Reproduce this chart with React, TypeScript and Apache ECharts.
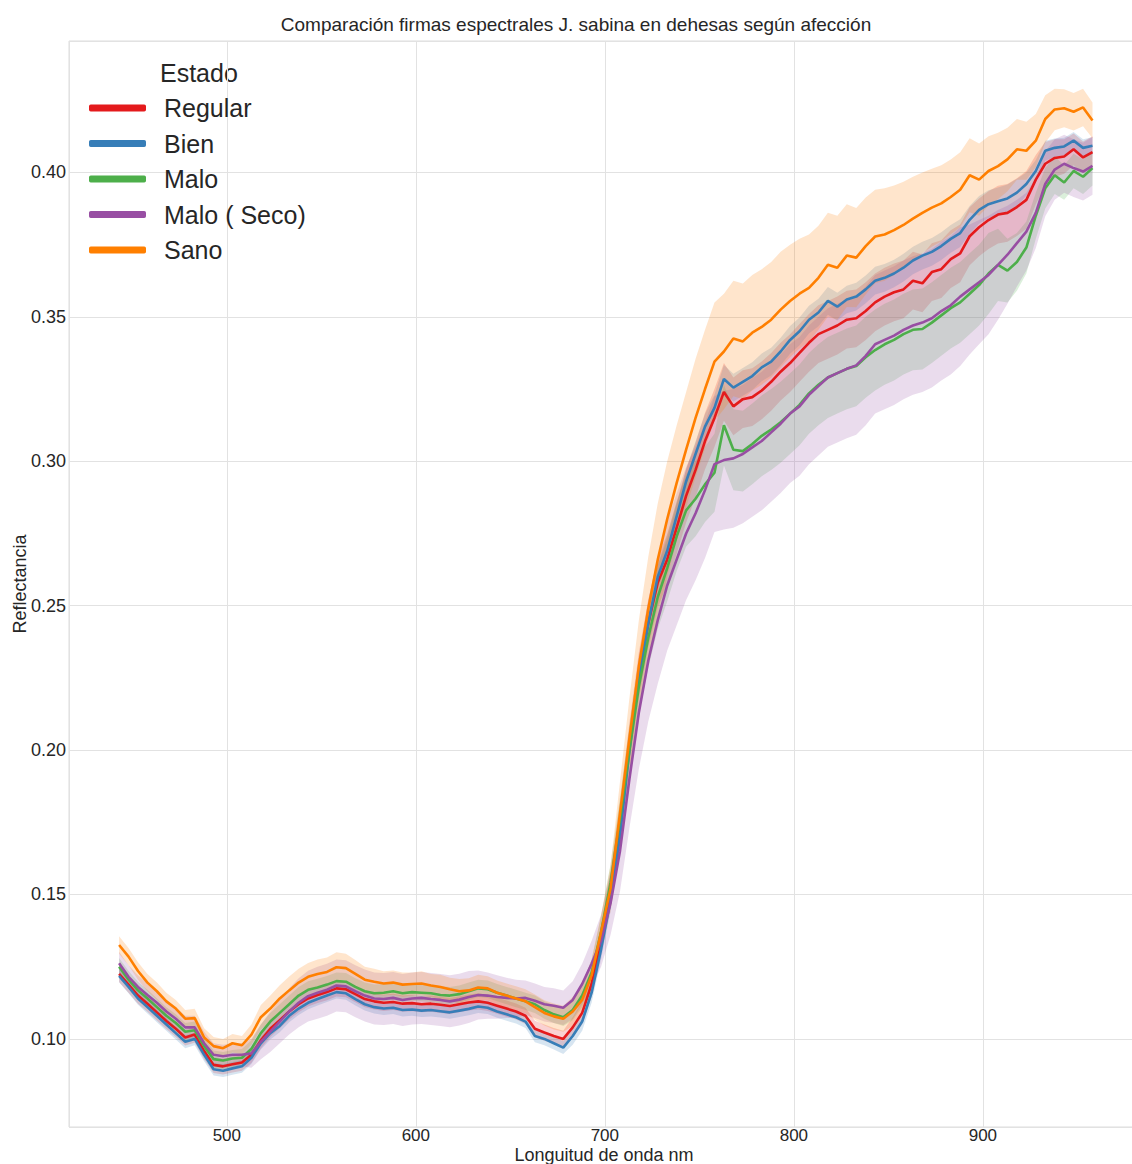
import React, { useEffect, useRef } from "react";
import * as echarts from "echarts";

const FONT = "'Liberation Sans', Arial, Helvetica, sans-serif";
const TITLE = "Comparación firmas espectrales J. sabina en dehesas según afección";
const X_NAME = "Longuitud de onda nm";
const Y_NAME = "Reflectancia";
const LEGEND_TITLE = "Estado";

const wavelengths = [
  443, 448, 453, 458, 463, 468, 473, 478, 483, 488,
  493, 498, 503, 508, 513, 518, 523, 528, 533, 538,
  543, 548, 553, 558, 563, 568, 573, 578, 583, 588,
  593, 598, 603, 608, 613, 618, 623, 628, 633, 638,
  643, 648, 653, 658, 663, 668, 673, 678, 683, 688,
  693, 698, 703, 708, 713, 718, 723, 728, 733, 738,
  743, 748, 753, 758, 763, 768, 773, 778, 783, 788,
  793, 798, 803, 808, 813, 818, 823, 828, 833, 838,
  843, 848, 853, 858, 863, 868, 873, 878, 883, 888,
  893, 898, 903, 908, 913, 918, 923, 928, 933, 938,
  943, 948, 953, 958,
];

const seriesNames = ["Regular", "Bien", "Malo", "Malo ( Seco)", "Sano"];
const seriesColors = ["#e41a1c", "#377eb8", "#4daf4a", "#984ea3", "#ff7f00"];

const regular = [
  0.1225, 0.1188, 0.1150, 0.1122, 0.1092, 0.1062, 0.1035, 0.1005, 0.1015, 0.0958,
  0.0910, 0.0905, 0.0912, 0.0918, 0.0945, 0.0995, 0.1035, 0.1065, 0.1095, 0.1120,
  0.1140, 0.1152, 0.1162, 0.1175, 0.1172, 0.1155, 0.1138, 0.1130, 0.1125, 0.1128,
  0.1122, 0.1124, 0.1120, 0.1122, 0.1118, 0.1114, 0.1120, 0.1126, 0.1130, 0.1125,
  0.1115, 0.1105, 0.1095, 0.1080, 0.1035, 0.1022, 0.1010, 0.1000, 0.1040, 0.1090,
  0.1190, 0.1340, 0.1520, 0.1750, 0.2020, 0.2260, 0.2440, 0.2580, 0.2660, 0.2770,
  0.2880, 0.2970, 0.3070, 0.3150, 0.3240, 0.3190, 0.3215, 0.3222, 0.3245, 0.3275,
  0.3310, 0.3340, 0.3375, 0.3410, 0.3440, 0.3455, 0.3470, 0.3490, 0.3495, 0.3520,
  0.3550, 0.3570, 0.3585, 0.3595, 0.3625, 0.3616, 0.3655, 0.3665, 0.3700, 0.3720,
  0.3779, 0.3810, 0.3835, 0.3854, 0.3860, 0.3880, 0.3905, 0.3975, 0.4030, 0.4050,
  0.4055, 0.4080, 0.4052, 0.4070,
];
const regularSpread = [
  0.0028, 0.0028, 0.0028, 0.0028, 0.0028, 0.0028, 0.0028, 0.0028, 0.0028, 0.0028,
  0.0028, 0.0028, 0.0028, 0.0028, 0.0028, 0.0028, 0.0028, 0.0028, 0.0028, 0.0028,
  0.0028, 0.0028, 0.0028, 0.0028, 0.0028, 0.0028, 0.0028, 0.0028, 0.0028, 0.0028,
  0.0028, 0.0028, 0.0028, 0.0028, 0.0028, 0.0028, 0.0028, 0.0028, 0.0028, 0.0028,
  0.0028, 0.0028, 0.0028, 0.0028, 0.0028, 0.0028, 0.0028, 0.0028, 0.0035, 0.0040,
  0.0045, 0.0050, 0.0060, 0.0070, 0.0075, 0.0080, 0.0082, 0.0085, 0.0088, 0.0090,
  0.0092, 0.0095, 0.0098, 0.0100, 0.0100, 0.0100, 0.0100, 0.0100, 0.0100, 0.0100,
  0.0100, 0.0100, 0.0100, 0.0100, 0.0100, 0.0100, 0.0100, 0.0100, 0.0100, 0.0100,
  0.0100, 0.0100, 0.0100, 0.0100, 0.0100, 0.0100, 0.0100, 0.0100, 0.0100, 0.0100,
  0.0100, 0.0100, 0.0100, 0.0100, 0.0100, 0.0100, 0.0100, 0.0085, 0.0075, 0.0065,
  0.0060, 0.0055, 0.0055, 0.0055,
];

const bien = [
  0.1218, 0.1180, 0.1140, 0.1110, 0.1080, 0.1050, 0.1020, 0.0990, 0.1000, 0.0945,
  0.0895, 0.0890, 0.0898, 0.0905, 0.0935, 0.0985, 0.1020, 0.1045, 0.1080, 0.1105,
  0.1125, 0.1138, 0.1150, 0.1162, 0.1158, 0.1138, 0.1120, 0.1110, 0.1105, 0.1108,
  0.1100, 0.1102, 0.1098, 0.1100, 0.1096, 0.1092, 0.1098, 0.1104, 0.1112, 0.1108,
  0.1095, 0.1085, 0.1075, 0.1060, 0.1010, 0.1000, 0.0985, 0.0970, 0.1010, 0.1060,
  0.1160, 0.1310, 0.1480, 0.1700, 0.2000, 0.2250, 0.2440, 0.2600, 0.2690, 0.2810,
  0.2930, 0.3025, 0.3120, 0.3185, 0.3285, 0.3255, 0.3275, 0.3295, 0.3325, 0.3345,
  0.3380, 0.3420, 0.3450, 0.3490, 0.3515, 0.3555, 0.3535, 0.3560, 0.3570, 0.3595,
  0.3625, 0.3635, 0.3650, 0.3670, 0.3695, 0.3712, 0.3725, 0.3745, 0.3770, 0.3790,
  0.3836, 0.3870, 0.3890, 0.3900, 0.3910, 0.3930, 0.3960, 0.4005, 0.4075, 0.4085,
  0.4090, 0.4110, 0.4085, 0.4092,
];
const bienSpread = [
  0.0022, 0.0022, 0.0022, 0.0022, 0.0022, 0.0022, 0.0022, 0.0022, 0.0022, 0.0022,
  0.0022, 0.0022, 0.0022, 0.0022, 0.0022, 0.0022, 0.0022, 0.0022, 0.0022, 0.0022,
  0.0022, 0.0022, 0.0022, 0.0022, 0.0022, 0.0022, 0.0022, 0.0022, 0.0022, 0.0022,
  0.0022, 0.0022, 0.0022, 0.0022, 0.0022, 0.0022, 0.0022, 0.0022, 0.0022, 0.0022,
  0.0022, 0.0022, 0.0022, 0.0022, 0.0022, 0.0022, 0.0022, 0.0022, 0.0030, 0.0032,
  0.0035, 0.0035, 0.0038, 0.0040, 0.0040, 0.0040, 0.0040, 0.0040, 0.0040, 0.0042,
  0.0042, 0.0044, 0.0044, 0.0045, 0.0048, 0.0048, 0.0048, 0.0048, 0.0048, 0.0048,
  0.0048, 0.0048, 0.0048, 0.0048, 0.0048, 0.0048, 0.0048, 0.0048, 0.0048, 0.0048,
  0.0048, 0.0048, 0.0048, 0.0048, 0.0048, 0.0048, 0.0048, 0.0048, 0.0048, 0.0048,
  0.0048, 0.0048, 0.0048, 0.0048, 0.0048, 0.0048, 0.0040, 0.0038, 0.0035, 0.0032,
  0.0030, 0.0030, 0.0030, 0.0030,
];

const malo = [
  0.1250, 0.1205, 0.1168, 0.1140, 0.1110, 0.1080, 0.1055, 0.1025, 0.1030, 0.0975,
  0.0930, 0.0925, 0.0932, 0.0935, 0.0965, 0.1020, 0.1060, 0.1090, 0.1120, 0.1150,
  0.1170, 0.1178, 0.1188, 0.1200, 0.1198, 0.1180, 0.1165, 0.1158, 0.1160, 0.1165,
  0.1158, 0.1162, 0.1160, 0.1158, 0.1152, 0.1150, 0.1155, 0.1165, 0.1175, 0.1172,
  0.1160, 0.1150, 0.1140, 0.1130, 0.1120, 0.1100, 0.1085, 0.1075, 0.1100, 0.1150,
  0.1230, 0.1370, 0.1540, 0.1760, 0.2000, 0.2220, 0.2390, 0.2530, 0.2630, 0.2740,
  0.2830, 0.2870, 0.2920, 0.2960, 0.3125, 0.3040, 0.3035, 0.3060, 0.3088, 0.3110,
  0.3135, 0.3165, 0.3195, 0.3235, 0.3265, 0.3290, 0.3305, 0.3320, 0.3330, 0.3360,
  0.3385, 0.3405, 0.3420, 0.3440, 0.3455, 0.3458, 0.3480, 0.3505, 0.3530, 0.3550,
  0.3580, 0.3610, 0.3650, 0.3680, 0.3660, 0.3690, 0.3740, 0.3850, 0.3945, 0.3990,
  0.3965, 0.4005, 0.3985, 0.4015,
];
const maloSpread = [
  0.0030, 0.0030, 0.0030, 0.0030, 0.0030, 0.0030, 0.0030, 0.0030, 0.0030, 0.0030,
  0.0030, 0.0030, 0.0030, 0.0030, 0.0030, 0.0030, 0.0030, 0.0030, 0.0030, 0.0030,
  0.0030, 0.0030, 0.0030, 0.0030, 0.0030, 0.0030, 0.0030, 0.0030, 0.0030, 0.0030,
  0.0030, 0.0030, 0.0030, 0.0030, 0.0030, 0.0030, 0.0030, 0.0030, 0.0030, 0.0030,
  0.0030, 0.0030, 0.0030, 0.0030, 0.0030, 0.0030, 0.0030, 0.0030, 0.0035, 0.0040,
  0.0045, 0.0055, 0.0065, 0.0075, 0.0085, 0.0095, 0.0105, 0.0110, 0.0115, 0.0120,
  0.0125, 0.0130, 0.0130, 0.0135, 0.0140, 0.0140, 0.0140, 0.0140, 0.0140, 0.0140,
  0.0140, 0.0140, 0.0140, 0.0140, 0.0140, 0.0140, 0.0140, 0.0140, 0.0140, 0.0140,
  0.0140, 0.0140, 0.0140, 0.0140, 0.0140, 0.0140, 0.0140, 0.0140, 0.0140, 0.0140,
  0.0140, 0.0140, 0.0140, 0.0125, 0.0110, 0.0100, 0.0090, 0.0080, 0.0070, 0.0065,
  0.0060, 0.0060, 0.0060, 0.0060,
];

const maloSeco = [
  0.1262, 0.1215, 0.1180, 0.1152, 0.1125, 0.1095, 0.1070, 0.1040, 0.1040, 0.0985,
  0.0945, 0.0940, 0.0945, 0.0945, 0.0950, 0.0990, 0.1025, 0.1060, 0.1095, 0.1125,
  0.1148, 0.1160, 0.1170, 0.1185, 0.1182, 0.1165, 0.1150, 0.1140, 0.1138, 0.1142,
  0.1135, 0.1140, 0.1142, 0.1138, 0.1135, 0.1130, 0.1136, 0.1145, 0.1152, 0.1150,
  0.1145, 0.1142, 0.1140, 0.1142, 0.1132, 0.1120, 0.1115, 0.1108, 0.1135, 0.1190,
  0.1260, 0.1340, 0.1470, 0.1650, 0.1900, 0.2130, 0.2310, 0.2450, 0.2570, 0.2660,
  0.2750, 0.2820, 0.2900, 0.2990, 0.3004, 0.3010, 0.3025, 0.3048, 0.3070, 0.3100,
  0.3130, 0.3165, 0.3190, 0.3230, 0.3260, 0.3290, 0.3305, 0.3320, 0.3332, 0.3365,
  0.3405, 0.3420, 0.3435, 0.3455, 0.3470, 0.3480, 0.3495, 0.3520, 0.3540, 0.3570,
  0.3595, 0.3620, 0.3645, 0.3680, 0.3715, 0.3755, 0.3795, 0.3860, 0.3960, 0.4010,
  0.4030, 0.4015, 0.4003, 0.4023,
];
const maloSecoSpread = [
  0.0040, 0.0040, 0.0040, 0.0040, 0.0040, 0.0040, 0.0040, 0.0040, 0.0040, 0.0040,
  0.0040, 0.0040, 0.0040, 0.0040, 0.0050, 0.0060, 0.0070, 0.0075, 0.0080, 0.0085,
  0.0088, 0.0090, 0.0090, 0.0090, 0.0090, 0.0090, 0.0090, 0.0090, 0.0090, 0.0090,
  0.0090, 0.0090, 0.0090, 0.0090, 0.0090, 0.0090, 0.0090, 0.0090, 0.0085, 0.0080,
  0.0075, 0.0070, 0.0065, 0.0060, 0.0060, 0.0060, 0.0060, 0.0060, 0.0065, 0.0070,
  0.0080, 0.0090, 0.0110, 0.0140, 0.0170, 0.0195, 0.0210, 0.0220, 0.0225, 0.0228,
  0.0230, 0.0232, 0.0235, 0.0235, 0.0240, 0.0240, 0.0240, 0.0240, 0.0240, 0.0240,
  0.0240, 0.0240, 0.0240, 0.0240, 0.0240, 0.0240, 0.0240, 0.0240, 0.0240, 0.0240,
  0.0240, 0.0240, 0.0240, 0.0240, 0.0240, 0.0240, 0.0240, 0.0240, 0.0240, 0.0240,
  0.0225, 0.0215, 0.0205, 0.0190, 0.0170, 0.0150, 0.0135, 0.0122, 0.0112, 0.0105,
  0.0100, 0.0100, 0.0100, 0.0100,
];

const sano = [
  0.1325, 0.1285, 0.1235, 0.1195, 0.1165, 0.1130, 0.1105, 0.1070, 0.1072, 0.1005,
  0.0975, 0.0968, 0.0985, 0.0978, 0.1015, 0.1075, 0.1105, 0.1140, 0.1168, 0.1195,
  0.1215, 0.1225, 0.1232, 0.1248, 0.1245, 0.1225, 0.1205, 0.1198, 0.1192, 0.1195,
  0.1188, 0.1190, 0.1192, 0.1185, 0.1180, 0.1172, 0.1165, 0.1168, 0.1178, 0.1175,
  0.1160, 0.1150, 0.1140, 0.1130, 0.1110, 0.1090, 0.1078, 0.1070, 0.1095, 0.1135,
  0.1220, 0.1370, 0.1520, 0.1780, 0.2040, 0.2290, 0.2490, 0.2660, 0.2800, 0.2925,
  0.3040, 0.3150, 0.3250, 0.3345, 0.3380, 0.3425, 0.3415, 0.3445, 0.3465, 0.3490,
  0.3525, 0.3555, 0.3580, 0.3600, 0.3635, 0.3680, 0.3670, 0.3712, 0.3705, 0.3745,
  0.3778, 0.3785, 0.3800, 0.3818, 0.3840, 0.3860, 0.3878, 0.3893, 0.3915, 0.3940,
  0.3990, 0.3975, 0.4005, 0.4022, 0.4045, 0.4080, 0.4075, 0.4110, 0.4185, 0.4218,
  0.4222, 0.4210, 0.4225, 0.4180,
];
const sanoSpread = [
  0.0030, 0.0030, 0.0030, 0.0030, 0.0030, 0.0030, 0.0030, 0.0030, 0.0032, 0.0032,
  0.0032, 0.0032, 0.0032, 0.0032, 0.0035, 0.0042, 0.0045, 0.0046, 0.0048, 0.0048,
  0.0048, 0.0050, 0.0050, 0.0052, 0.0050, 0.0048, 0.0045, 0.0045, 0.0042, 0.0042,
  0.0042, 0.0040, 0.0042, 0.0040, 0.0042, 0.0040, 0.0042, 0.0042, 0.0044, 0.0042,
  0.0042, 0.0042, 0.0042, 0.0042, 0.0044, 0.0044, 0.0045, 0.0045, 0.0050, 0.0050,
  0.0055, 0.0060, 0.0080, 0.0110, 0.0140, 0.0160, 0.0180, 0.0195, 0.0200, 0.0200,
  0.0200, 0.0205, 0.0205, 0.0205, 0.0200, 0.0200, 0.0200, 0.0200, 0.0200, 0.0200,
  0.0200, 0.0195, 0.0190, 0.0185, 0.0180, 0.0180, 0.0180, 0.0178, 0.0172, 0.0168,
  0.0162, 0.0160, 0.0155, 0.0150, 0.0145, 0.0140, 0.0135, 0.0132, 0.0130, 0.0130,
  0.0128, 0.0125, 0.0120, 0.0115, 0.0110, 0.0105, 0.0100, 0.0092, 0.0082, 0.0072,
  0.0066, 0.0065, 0.0065, 0.0062,
];

const seriesValues = [regular, bien, malo, maloSeco, sano];
const seriesSpreads = [regularSpread, bienSpread, maloSpread, maloSecoSpread, sanoSpread];

function withAlpha(hex: string, a: number) {
  const r = parseInt(hex.slice(1, 3), 16);
  const g = parseInt(hex.slice(3, 5), 16);
  const b = parseInt(hex.slice(5, 7), 16);
  return `rgba(${r},${g},${b},${a})`;
}

export default function App() {
  const ref = useRef<HTMLDivElement>(null);

  useEffect(() => {
    if (!ref.current) return;
    const chart = echarts.init(ref.current, undefined, { renderer: "svg" });

    const bandSeries = seriesNames.map((name, s) => {
      const vals = seriesValues[s];
      const spr = seriesSpreads[s];
      const lo = vals.map((v, i) => v - spr[i]);
      const hi = vals.map((v, i) => v + spr[i]);
      return {
        type: "custom",
        name: name + " IC",
        silent: true,
        z: 1,
        clip: true,
        data: wavelengths.map((w, i) => [w, lo[i], hi[i]]),
        encode: { x: 0, y: [1, 2] },
        renderItem: (params: any, api: any) => {
          if (params.dataIndex !== 0) return null;
          const pts: number[][] = [];
          for (let i = 0; i < wavelengths.length; i++) pts.push(api.coord([wavelengths[i], lo[i]]));
          for (let i = wavelengths.length - 1; i >= 0; i--) pts.push(api.coord([wavelengths[i], hi[i]]));
          return {
            type: "polygon",
            shape: { points: pts },
            style: { fill: withAlpha(seriesColors[s], 0.2), stroke: "none" },
          };
        },
      };
    });

    const lineSeries = seriesNames.map((name, s) => ({
      type: "line",
      name,
      data: wavelengths.map((w, i) => [w, seriesValues[s][i]]),
      showSymbol: false,
      symbol: "none",
      z: 3,
      lineStyle: { width: 2.6, color: seriesColors[s] },
      itemStyle: { color: seriesColors[s] },
    }));

    chart.setOption({
      animation: false,
      backgroundColor: "#ffffff",
      textStyle: { fontFamily: FONT },
      grid: {
        left: 69,
        right: -7,
        top: 41,
        bottom: 37,
        containLabel: false,
        outerBoundsMode: "none",
        show: true,
        borderColor: "#dddddd",
        borderWidth: 1,
      },
      xAxis: {
        type: "value",
        min: 416.5,
        max: 982.6,
        splitNumber: 6,
        name: X_NAME,
        nameLocation: "middle",
        nameGap: 19,
        nameMoveOverlap: false,
        nameTextStyle: { fontSize: 18, color: "#262626", fontFamily: FONT },
        axisLine: { show: false },
        axisTick: { show: false },
        axisLabel: {
          fontSize: 17,
          color: "#262626",
          margin: 0,
          showMinLabel: false,
          showMaxLabel: false,
          fontFamily: FONT,
        },
        splitLine: { show: true, lineStyle: { color: "#e2e2e2", width: 1 } },
      },
      yAxis: {
        type: "value",
        min: 0.0695,
        max: 0.4455,
        splitNumber: 8,
        name: Y_NAME,
        nameLocation: "middle",
        nameGap: 40,
        nameMoveOverlap: false,
        nameRotate: 90,
        nameTextStyle: { fontSize: 18, color: "#262626", fontFamily: FONT },
        axisLine: { show: false },
        axisTick: { show: false },
        axisLabel: {
          fontSize: 18,
          color: "#262626",
          margin: 3,
          showMinLabel: false,
          showMaxLabel: false,
          fontFamily: FONT,
          formatter: (v: number) => v.toFixed(2),
        },
        splitLine: { show: true, lineStyle: { color: "#e2e2e2", width: 1 } },
      },
      legend: {
        data: seriesNames,
        orient: "vertical",
        left: 89,
        top: 93,
        padding: 0,
        itemWidth: 57,
        itemHeight: 7,
        itemGap: 5.5,
        icon: "roundRect",
        selectedMode: false,
        textStyle: {
          fontSize: 25,
          color: "#262626",
          lineHeight: 30,
          padding: [0, 0, 0, 13],
          fontFamily: FONT,
        },
      },
      graphic: [
        {
          type: "text",
          x: 576,
          y: 24,
          silent: true,
          style: {
            text: TITLE,
            fontSize: 19,
            fontFamily: FONT,
            fill: "#262626",
            align: "center",
            verticalAlign: "middle",
          },
        },
        {
          type: "text",
          x: 160,
          y: 73,
          silent: true,
          style: {
            text: LEGEND_TITLE,
            fontSize: 25,
            fontFamily: FONT,
            fill: "#262626",
            align: "left",
            verticalAlign: "middle",
          },
        },
      ],
      series: [...bandSeries, ...lineSeries],
    });

    return () => chart.dispose();
  }, []);

  return (
    <div
      ref={ref}
      style={{ position: "absolute", left: 0, top: 0, width: 1132, height: 1164, background: "#fff" }}
    />
  );
}
